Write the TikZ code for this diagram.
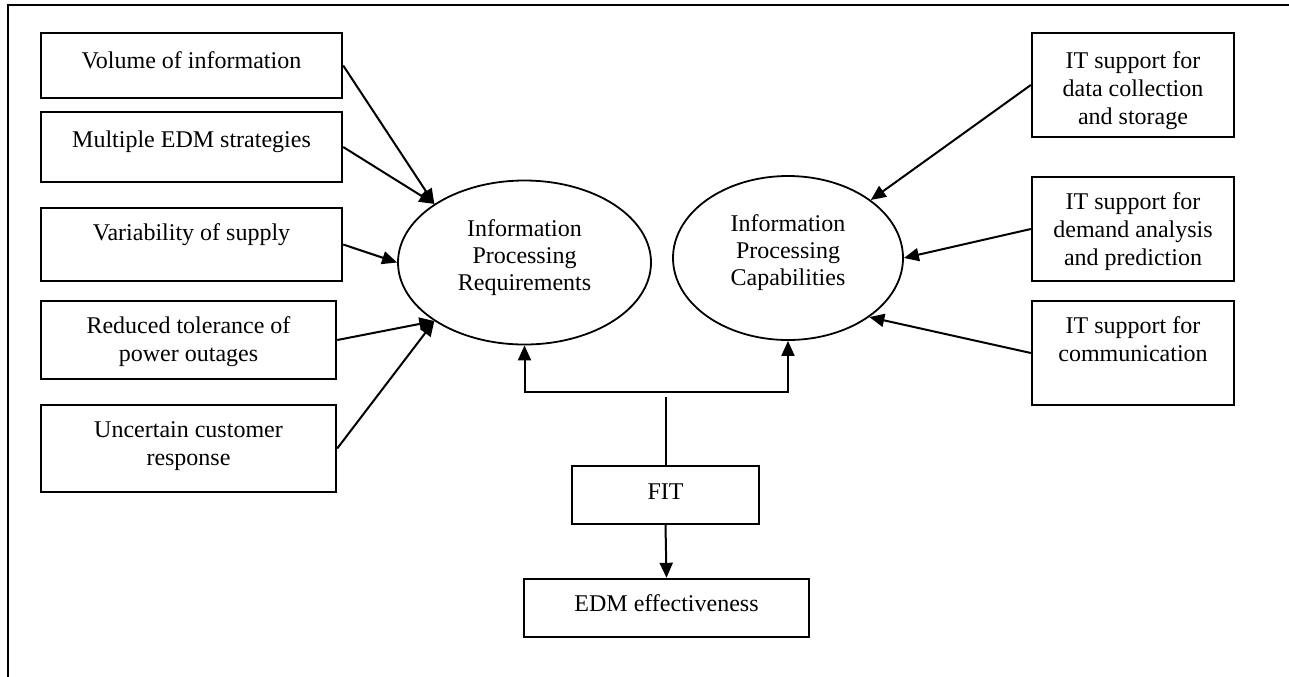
\documentclass[tikz,border=0pt]{standalone}
\usepackage{fontspec}
\setmainfont{Liberation Serif}
\usetikzlibrary{arrows.meta,shapes.geometric}
\begin{document}
\begin{tikzpicture}[x=0.5pt,y=-0.5pt,
  bx/.style={draw,line width=1.2pt,rectangle,inner sep=0pt},
  tx/.style={anchor=north,inner sep=0pt,align=center,font=\fontsize{12}{14}\selectfont},
  etx/.style={inner sep=0pt,align=center,font=\fontsize{12}{13.5}\selectfont},
  ell/.style={draw,line width=0.9pt,ellipse,inner sep=0pt},
  arr/.style={line width=1pt,-{Triangle[length=7.5pt,width=6.5pt]}},
  ln/.style={line width=1pt}]
\useasboundingbox (0,0) rectangle (1289,676);
\fill[white] (0,0) rectangle (1289,676);
% frame
\draw[line width=1.3pt] (8,680) -- (8,5) -- (1295,5);
% left boxes
\node[bx,minimum width=150.5pt,minimum height=32.5pt] (b1) at (191.5,65.5) {};
\node[tx] at ([yshift=-8.4pt]b1.north) {\strut Volume of information};
\node[bx,minimum width=150.5pt,minimum height=35pt] (b2) at (191.5,147) {};
\node[tx] at ([yshift=-8.4pt]b2.north) {\strut Multiple EDM strategies};
\node[bx,minimum width=150.5pt,minimum height=36.5pt] (b3) at (191.5,244.5) {};
\node[tx] at ([yshift=-6.9pt]b3.north) {\strut Variability of supply};
\node[bx,minimum width=147.5pt,minimum height=39pt] (b4) at (188.5,340) {};
\node[tx] at ([yshift=-6.9pt]b4.north) {\strut Reduced tolerance of\\power outages};
\node[bx,minimum width=147.5pt,minimum height=43.5pt] (b5) at (188.5,448.5) {};
\node[tx] at ([yshift=-6.9pt]b5.north) {\strut Uncertain customer\\response};
% right boxes
\node[bx,minimum width=101pt,minimum height=52pt] (r1) at (1133,85) {};
\node[tx] at ([yshift=-8.2pt]r1.north) {\strut IT support for\\data collection\\and storage};
\node[bx,minimum width=101pt,minimum height=52pt] (r2) at (1133,229) {};
\node[tx] at ([yshift=-6.9pt]r2.north) {\strut IT support for\\demand analysis\\and prediction};
\node[bx,minimum width=101pt,minimum height=52pt] (r3) at (1133,353) {};
\node[tx] at ([yshift=-6.9pt]r3.north) {\strut IT support for\\communication};
% ellipses
\node[ell,minimum width=126.5pt,minimum height=82pt] (e1) at (524.5,262.5) {};
\node[etx] at ([yshift=2.5pt]e1.center) {Information\\Processing\\Requirements};
\node[ell,minimum width=115pt,minimum height=82pt] (e2) at (788,258) {};
\node[etx] at ([yshift=2.5pt]e2.center) {Information\\Processing\\Capabilities};
% FIT and EDM
\node[bx,minimum width=93.5pt,minimum height=29pt] (fit) at (665.5,495) {};
\node[tx] at ([yshift=-7.4pt]fit.north) {\strut FIT};
\node[bx,minimum width=142.5pt,minimum height=29pt] (edm) at (666.5,608) {};
\node[tx] at ([yshift=-6.9pt]edm.north) {\strut EDM effectiveness};
% connectors
\draw[arr] (b1.east) -- (e1.147.7);
\draw[arr] (b2.east) -- (e1.147.7);
\draw[arr] (b3.east) -- (e1.180);
\draw[arr] (b4.east) -- (e1.213);
\draw[arr] (b5.east) -- (e1.213);
\draw[arr] (r1.west) -- (e2.35.3);
\draw[arr] (r2.west) -- (e2.0);
\draw[arr] (r3.west) -- (e2.324.3);
\coordinate (bar) at (666,392);
\coordinate (jn) at (666,397);
\draw[arr] (bar) -| (e1.south);
\draw[arr] (bar) -| (e2.south);
\draw[ln] (fit.north) -- (fit.north |- jn);
\draw[arr] (fit.south) -- (edm.north);
\end{tikzpicture}
\end{document}
